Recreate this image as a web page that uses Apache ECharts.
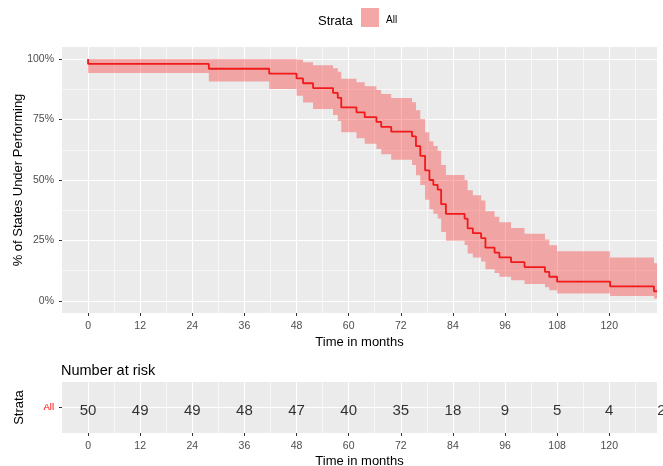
<!DOCTYPE html>
<html><head><meta charset="utf-8">
<script src="https://cdn.jsdelivr.net/npm/echarts@6/dist/echarts.min.js"></script>
<style>html,body{margin:0;padding:0;background:#fff}#c{width:663px;height:466px}</style>
</head><body><div id="c"></div>
<script>
// Kaplan-Meier step curve (time in months, survival %)
const times = [0, 0, 27.8, 41.7, 48, 49.5, 51.8, 56.4, 57.5, 58.3, 61.8, 63.7, 66.4, 67.5, 69.8, 74.6, 75.5, 76.5, 77.6, 78.6, 79.5, 80.5, 81.3, 82.4, 86.7, 87.4, 88.6, 90.5, 91.5, 93.6, 94.7, 97.4, 100.5, 105.2, 106.2, 108, 120.2, 130.3, 131];
const surv  = [100, 98, 96, 94, 92, 90, 88, 86, 84, 80, 78, 76, 74, 72, 70, 68, 64, 60, 54, 50, 48, 46, 40, 36, 34, 30, 28, 26, 22, 20, 18, 16, 14, 12, 10, 8, 6, 4, 4];
const upper = [100, 100, 100, 100, 99.8, 98.7, 97.5, 96.2, 94.8, 91.9, 90.4, 88.8, 87.2, 85.6, 83.9, 82.2, 78.8, 75.2, 69.7, 66.0, 64.1, 62.1, 56.2, 52.1, 50.0, 45.8, 43.7, 41.5, 37.1, 34.8, 32.5, 30.2, 27.8, 25.4, 23.0, 20.5, 18.0, 15.6, 15.6];
const lower = [100, 94.2, 90.7, 87.6, 84.8, 82.1, 79.4, 76.9, 74.4, 69.7, 67.3, 65.0, 62.8, 60.6, 58.4, 56.2, 52.0, 47.9, 41.8, 37.9, 36.0, 34.1, 28.5, 24.9, 23.1, 19.6, 18.0, 16.3, 13.1, 11.5, 10.0, 8.5, 7.0, 5.7, 4.4, 3.1, 2.0, 1.0, 1.0];
// Number at risk table
const strata = ['All'];
const riskTimes  = [0, 12, 24, 36, 48, 60, 72, 84, 96, 108, 120, 132];
const riskCounts = [50, 49, 49, 48, 47, 40, 35, 18, 9, 5, 4, 2];
// tick labels
const xTicks = [0, 12, 24, 36, 48, 60, 72, 84, 96, 108, 120];
const xMinor = [6, 18, 30, 42, 54, 66, 78, 90, 102, 114, 126];
const yTicks = [0, 25, 50, 75, 100];
const yMinor = [12.5, 37.5, 62.5, 87.5];

const FONT = '"Liberation Sans", Arial, sans-serif';
const chart = echarts.init(document.getElementById('c'), null, {renderer: 'canvas'});

function majorX(gridIndex, nameGap, margin) {
  return {
    type: 'value', gridIndex: gridIndex, min: -6, max: 131,
    axisLine: {show: false, onZero: false},
    axisTick: {show: true, customValues: xTicks, length: 3, lineStyle: {color: '#333', width: 1}},
    axisLabel: {show: true, customValues: xTicks, color: '#4d4d4d', fontSize: 10.5, fontFamily: FONT, margin: margin},
    splitLine: {show: true, lineStyle: {color: '#ffffff', width: 1.1}},
    name: 'Time in months', nameLocation: 'middle', nameGap: nameGap, nameMoveOverlap: false,
    nameTextStyle: {color: '#000', fontSize: 13, fontFamily: FONT}
  };
}
function minorX(gridIndex) {
  return {
    type: 'value', gridIndex: gridIndex, min: -6, max: 131,
    axisLine: {show: false, onZero: false},
    axisTick: {show: false, customValues: xMinor},
    axisLabel: {show: false, customValues: xMinor},
    splitLine: {show: true, lineStyle: {color: '#ffffff', width: 0.6}}
  };
}

const option = {
  backgroundColor: '#ffffff',
  animation: false,
  textStyle: {fontFamily: FONT},
  title: [
    {text: 'Number at risk', left: 56, top: 358, textStyle: {fontSize: 14.5, fontWeight: 'normal', color: '#000', fontFamily: FONT}},
    {text: 'Strata', left: 313, top: 10, textStyle: {fontSize: 13, fontWeight: 'normal', color: '#000', fontFamily: FONT}}
  ],
  legend: {
    left: 356, top: 3, itemWidth: 18, itemHeight: 19, itemGap: 6, selectedMode: false,
    data: [{name: 'All', icon: 'rect', itemStyle: {color: '#f5a6a6', borderWidth: 0}}],
    formatter: name => '{a|' + name + '}',
    textStyle: {fontSize: 10, color: '#000', fontFamily: FONT,
      rich: {a: {fontSize: 10, color: '#000', fontFamily: FONT, padding: [6, 0, 0, 2]}}}
  },
  grid: [
    {left: 62, top: 47, width: 595, height: 266, show: true, backgroundColor: '#ebebeb', borderWidth: 0, containLabel: false, outerBoundsMode: 'none'},
    {left: 62, top: 382, width: 595, height: 51, show: true, backgroundColor: '#ebebeb', borderWidth: 0, containLabel: false, outerBoundsMode: 'none'}
  ],
  xAxis: [majorX(0, 23, 8), minorX(0), majorX(1, 22, 8), minorX(1)],
  yAxis: [
    {
      type: 'value', gridIndex: 0, min: -5, max: 105,
      axisLine: {show: false, onZero: false},
      axisTick: {show: true, customValues: yTicks, length: 3, lineStyle: {color: '#333'}},
      axisLabel: {show: true, customValues: yTicks, formatter: v => v + '%', color: '#4d4d4d', fontSize: 10.5, fontFamily: FONT, margin: 8},
      splitLine: {show: true, lineStyle: {color: '#fff', width: 1.1}},
      name: '% of States Under Performing', nameLocation: 'middle', nameGap: 37, nameRotate: 90, nameMoveOverlap: false,
      nameTextStyle: {color: '#000', fontSize: 13, fontFamily: FONT}
    },
    {
      type: 'value', gridIndex: 0, min: -5, max: 105, position: 'left',
      axisLine: {show: false, onZero: false},
      axisTick: {show: false, customValues: yMinor},
      axisLabel: {show: false, customValues: yMinor},
      splitLine: {show: true, lineStyle: {color: '#fff', width: 0.6}}
    },
    {
      type: 'value', gridIndex: 1, min: 0, max: 2,
      axisLine: {show: false, onZero: false},
      axisTick: {show: true, customValues: [1], length: 3, lineStyle: {color: '#333'}},
      axisLabel: {show: true, customValues: [1], formatter: () => strata[0], color: '#ff0000', fontSize: 9.5, fontFamily: FONT, margin: 8, padding: [4, 0, 0, 0]},
      splitLine: {show: true, lineStyle: {color: '#fff', width: 1.1}},
      name: 'Strata', nameLocation: 'middle', nameGap: 36, nameRotate: 90, nameMoveOverlap: false,
      nameTextStyle: {color: '#000', fontSize: 13, fontFamily: FONT}
    }
  ],
  series: [
    {
      name: 'All', type: 'custom', xAxisIndex: 0, yAxisIndex: 0,
      itemStyle: {color: 'rgba(255,0,0,0.3)'},
      data: [0], silent: true, z: 2,
      renderItem: function (params, api) {
        const top = [], bot = [];
        for (let i = 0; i < times.length - 1; i++) {
          top.push(api.coord([times[i], upper[i]]));
          top.push(api.coord([times[i + 1], upper[i]]));
          bot.push(api.coord([times[i], lower[i]]));
          bot.push(api.coord([times[i + 1], lower[i]]));
        }
        const pts = top.concat(bot.reverse());
        return {type: 'polygon', shape: {points: pts}, style: {fill: 'rgba(255,0,0,0.3)', stroke: null}};
      }
    },
    {
      name: 'Survival', type: 'line', xAxisIndex: 0, yAxisIndex: 0, step: 'end',
      data: times.map((t, i) => [t, surv[i]]),
      symbol: 'none', lineStyle: {color: '#f01a1a', width: 1.8}, z: 3, silent: true
    },
    {
      name: 'Number at risk', type: 'scatter', xAxisIndex: 2, yAxisIndex: 2,
      data: riskTimes.map((t, i) => [t, 1, riskCounts[i]]),
      symbolSize: 0, clip: false, silent: true,
      label: {show: true, position: 'inside', align: 'center', verticalAlign: 'middle', offset: [0, 3], formatter: p => String(p.value[2]), color: '#000', fontSize: 15, fontFamily: FONT}
    }
  ]
};
chart.setOption(option);
</script>
</body></html>
